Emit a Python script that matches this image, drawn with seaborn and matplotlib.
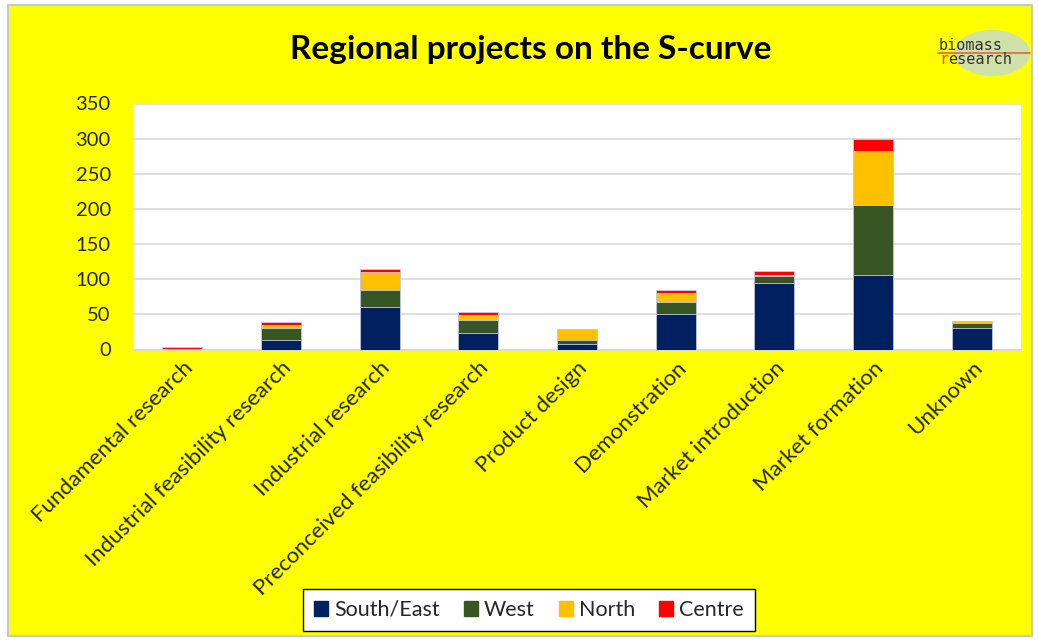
import numpy as np
import pandas as pd
import matplotlib.pyplot as plt
import matplotlib.patches as mpatches
import seaborn as sns

categories = ['Fundamental research', 'Industrial feasibility research', 'Industrial research',
              'Preconceived feasibility research', 'Product design', 'Demonstration',
              'Market introduction', 'Market formation', 'Unknown']
south_east = [0, 14, 60, 24, 8, 51, 95, 106, 30]
west = [0, 16, 24, 18, 6, 16, 9, 100, 7]
north = [1, 5, 26, 7, 15, 14, 2, 76, 3]
centre = [2, 4, 5, 4, 0, 3, 5, 18, 0]

regions = ['South/East', 'West', 'North', 'Centre']
colors = ['#002060', '#375623', '#FFC000', '#FF0000']

df = pd.DataFrame({'category': categories, 'South/East': south_east, 'West': west,
                   'North': north, 'Centre': centre})
# cumulative totals, drawn from the top segment down so the stack shows
cum = df[regions].cumsum(axis=1)

sns.set_style('white')
plt.rcParams['font.family'] = ['Lato', 'DejaVu Sans']

fig = plt.figure(figsize=(10.38, 6.41), dpi=100)
fig.patch.set_facecolor('white')
# yellow chart area with a grey frame
fig.patches.append(mpatches.Rectangle((8 / 1038, 5 / 641), 1024 / 1038, 631 / 641,
                                      transform=fig.transFigure, facecolor='#FFFF00',
                                      edgecolor='#c8c8c8', linewidth=1.5, zorder=-5))

ax = fig.add_axes([133 / 1038, 1 - 349.5 / 641, 888 / 1038, 246 / 641])
ax.set_facecolor('white')

for reg, col in reversed(list(zip(regions, colors))):
    sns.barplot(x=df['category'], y=cum[reg], color=col, width=0.405, ax=ax,
                edgecolor='#c5cbe0', linewidth=0.6, saturation=1, zorder=3)

ax.set_ylim(0, 350)
ax.set_yticks(np.arange(0, 351, 50))
ax.yaxis.grid(True, color='#d9d9d9', linewidth=1.2, zorder=0)
ax.set_axisbelow(True)
for s in ['top', 'right', 'left']:
    ax.spines[s].set_visible(False)
ax.spines['bottom'].set_color('#d9d9d9')
ax.spines['bottom'].set_linewidth(1.2)
ax.set_xlabel('')
ax.set_ylabel('')
ax.tick_params(axis='y', length=0, pad=16, labelsize=14.5, labelcolor='#262626')
ax.tick_params(axis='x', length=0, pad=6, labelsize=16, labelcolor='#262626')
plt.setp(ax.get_xticklabels(), rotation=45, ha='right', rotation_mode='anchor')

fig.text(0.511, 1 - 50 / 641, 'Regional projects on the S-curve', ha='center', va='center',
         fontsize=24, fontweight='bold', color='black')

# logo
fig.patches.append(mpatches.Ellipse((992 / 1038, 1 - 53 / 641), 76 / 1038, 46 / 641,
                                    transform=fig.transFigure, facecolor='#cfe0a8',
                                    edgecolor='none', zorder=1))
fig.text(939 / 1038, 1 - 45 / 641, 'biomass', fontsize=11, family='DejaVu Sans Mono',
         color='#333333', va='center')
fig.text(939 / 1038, 1 - 60 / 641, 'r', fontsize=11, family='DejaVu Sans Mono',
         color='#e8402a', va='center')
fig.text(939 / 1038 + 9.5 / 1038, 1 - 60 / 641, 'esearch', fontsize=11, family='DejaVu Sans Mono',
         color='#333333', va='center')
fig.lines.append(plt.Line2D([938 / 1038, 1030 / 1038], [1 - 52.5 / 641, 1 - 52.5 / 641],
                            transform=fig.transFigure, color='#e8604a', linewidth=1.2))

handles = [mpatches.Patch(color=c, label=r) for r, c in zip(regions, colors)]
leg = fig.legend(handles=handles, loc='center', bbox_to_anchor=(529 / 1038, 1 - 610 / 641),
                 ncol=4, frameon=True, fontsize=15.5, handlelength=0.65, handleheight=0.65,
                 handletextpad=0.3, columnspacing=1.1, borderpad=0.5, fancybox=False,
                 framealpha=1, facecolor='white')
leg.get_frame().set_edgecolor('black')
leg.get_frame().set_linewidth(1.0)
for t in leg.get_texts():
    t.set_color('#262626')

fig.savefig('out.png', dpi=100, facecolor=fig.get_facecolor())
